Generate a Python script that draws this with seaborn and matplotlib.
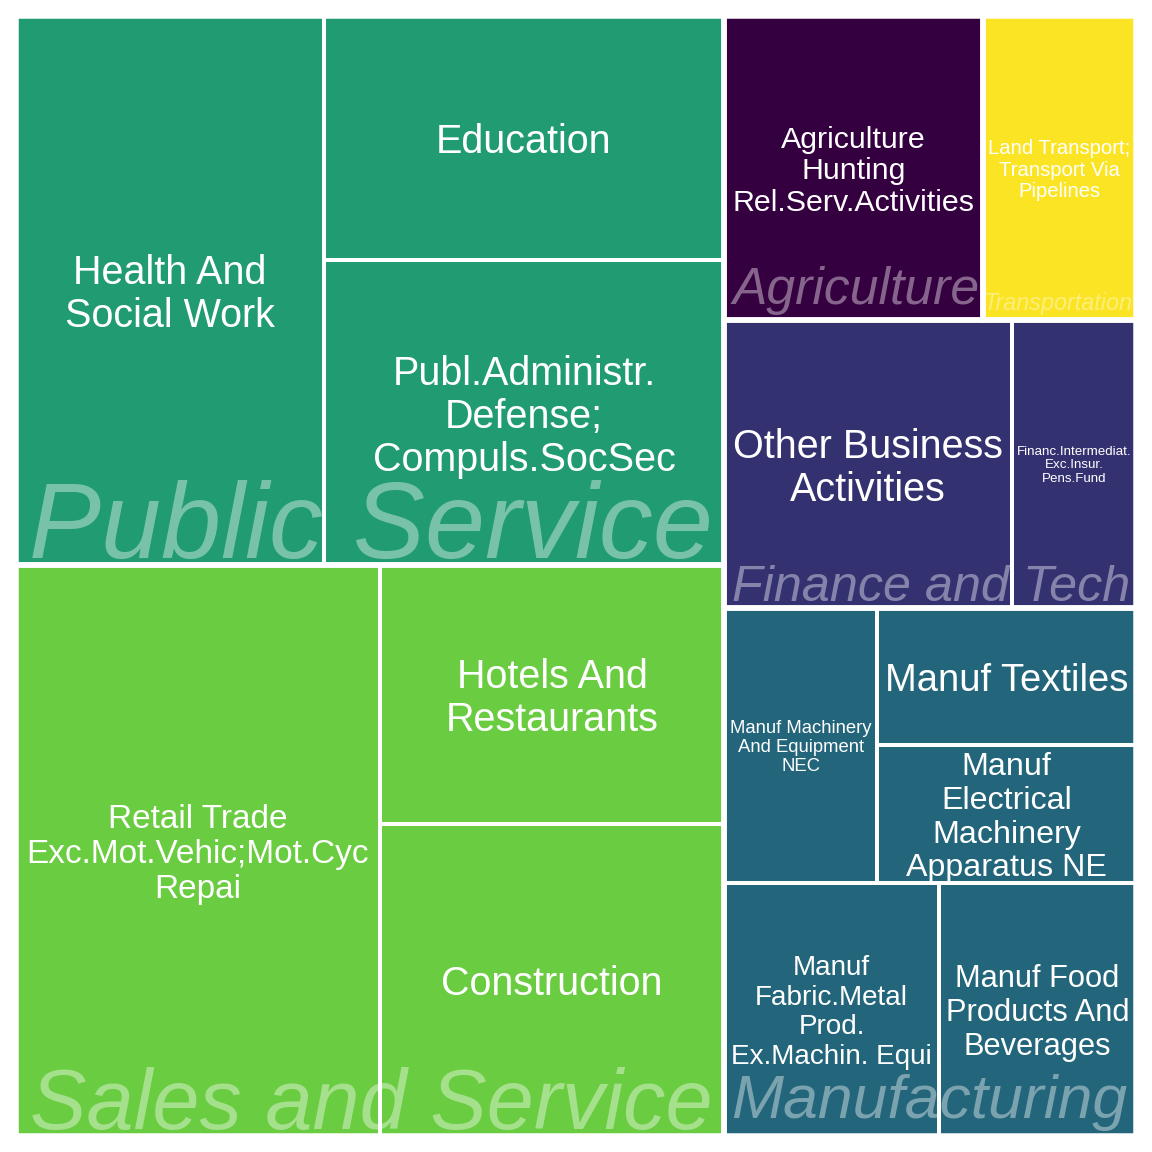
import matplotlib
matplotlib.use("Agg")
import matplotlib.pyplot as plt
import seaborn as sns
import pandas as pd
from matplotlib.patches import Rectangle
from matplotlib.textpath import TextPath
from matplotlib.font_manager import FontProperties

# ===============================
# DATA
# ===============================
sectors = [
    "Public Service", "Public Service", "Public Service",
    "Sales and Service", "Sales and Service", "Sales and Service",
    "Manufacturing", "Manufacturing", "Manufacturing", "Manufacturing", "Manufacturing",
    "Finance and Tech", "Finance and Tech",
    "Agriculture",
    "Transportation",
]
industries = [
    "Health And\nSocial Work",
    "Publ.Administr.\nDefense;\nCompuls.SocSec",
    "Education",
    "Retail Trade\nExc.Mot.Vehic;Mot.Cyc\nRepai",
    "Construction",
    "Hotels And\nRestaurants",
    "Manuf\nFabric.Metal\nProd.\nEx.Machin. Equi",
    "Manuf Food\nProducts And\nBeverages",
    "Manuf Machinery\nAnd Equipment\nNEC",
    "Manuf\nElectrical\nMachinery\nApparatus NE",
    "Manuf Textiles",
    "Other Business\nActivities",
    "Financ.Intermediat.\nExc.Insur.\nPens.Fund",
    "Agriculture\nHunting\nRel.Serv.Activities",
    "Land Transport;\nTransport Via\nPipelines",
]
values = [1690, 1220, 976, 2078, 1073, 891, 544, 498, 421, 357, 355, 829, 357, 787, 465]

sector_colors = {
    "Agriculture": "#35003F",
    "Finance and Tech": "#343170",
    "Manufacturing": "#23657A",
    "Public Service": "#219B72",
    "Sales and Service": "#6ACC40",
    "Transportation": "#FBE424",
}

df = pd.DataFrame({"sector": sectors, "industry": industries, "value": values})

# ===============================
# SQUARIFIED LAYOUT (origin bottom-left)
# ===============================
def worst(row, side):
    s = sum(row)
    return max(max(side * side * r / (s * s), (s * s) / (side * side * r)) for r in row)


def squarify(vals, x, y, w, h):
    total = sum(vals)
    areas = [v * w * h / total for v in vals]
    rects = []
    while areas:
        side = min(w, h)
        row = [areas[0]]
        i = 1
        while i < len(areas) and worst(row + [areas[i]], side) <= worst(row, side):
            row.append(areas[i])
            i += 1
        s = sum(row)
        if w >= h:
            cw = s / h
            yy = y
            for a in row:
                rh = a / cw
                rects.append((x, yy, cw, rh))
                yy += rh
            x += cw
            w -= cw
        else:
            rh = s / w
            xx = x
            for a in row:
                rw = a / rh
                rects.append((xx, y, rw, rh))
                xx += rw
            y += rh
            h -= rh
        areas = areas[i:]
    return rects


SIZE = 1152
DPI = 100
X0, Y0, W, H = 16, 16, 1120, 1120
PX2PT = 72 / DPI

sns.set_theme(style="white")
plt.rcParams["font.family"] = ["Liberation Sans", "DejaVu Sans"]

fig = plt.figure(figsize=(SIZE / DPI, SIZE / DPI), dpi=DPI)
ax = fig.add_axes([0, 0, 1, 1])
ax.set_xlim(0, SIZE)
ax.set_ylim(0, SIZE)
ax.axis("off")
renderer = fig.canvas.get_renderer()

group_tot = df.groupby("sector")["value"].sum().sort_values(ascending=False)
group_rects = dict(zip(group_tot.index, squarify(list(group_tot.values), X0, Y0, W, H)))

CHILD_CAP = 39.5  # px
italic = FontProperties(family="Liberation Sans", style="italic")

for sector, (gx, gy, gw, gh) in group_rects.items():
    sub = df[df["sector"] == sector].sort_values("value", ascending=False, kind="stable")
    color = sector_colors[sector]
    for (_, r), (cx, cy, cw, ch) in zip(sub.iterrows(), squarify(list(sub["value"]), gx, gy, gw, gh)):
        ax.add_patch(Rectangle((cx, cy), cw, ch, facecolor=color,
                               edgecolor="white", linewidth=4 * PX2PT))
        t = ax.text(cx + cw / 2, cy + ch / 2, r["industry"], ha="center", va="center",
                    color="white", fontsize=20, linespacing=1.17, zorder=4)
        bb = t.get_window_extent(renderer)
        scale = min(0.95 * (cw - 4) / bb.width, 0.99 * (ch - 4) / bb.height)
        size_px = min(20 * scale / PX2PT, CHILD_CAP)
        t.set_fontsize(size_px * PX2PT)
        # R centres slightly lower than matplotlib's bbox centre
        t.set_y(cy + ch / 2 - 0.11 * size_px)

    # group border
    ax.add_patch(Rectangle((gx, gy), gw, gh, facecolor="none",
                           edgecolor="white", linewidth=5.5 * PX2PT, zorder=3))

    # big italic group label, fitted to the group width
    ext = TextPath((0, 0), sector, size=1, prop=italic).get_extents()
    px = 0.955 * gw / ext.width
    tx = gx + (gw - ext.width * px) / 2 - ext.x0 * px
    ty = gy + max(7, -ext.y0 * px + 5)
    ax.text(tx, ty, sector, ha="left", va="baseline", fontsize=px * PX2PT,
            fontstyle="italic", color="white", alpha=0.4, zorder=5)

fig.savefig("out.png", dpi=DPI, facecolor="white")
